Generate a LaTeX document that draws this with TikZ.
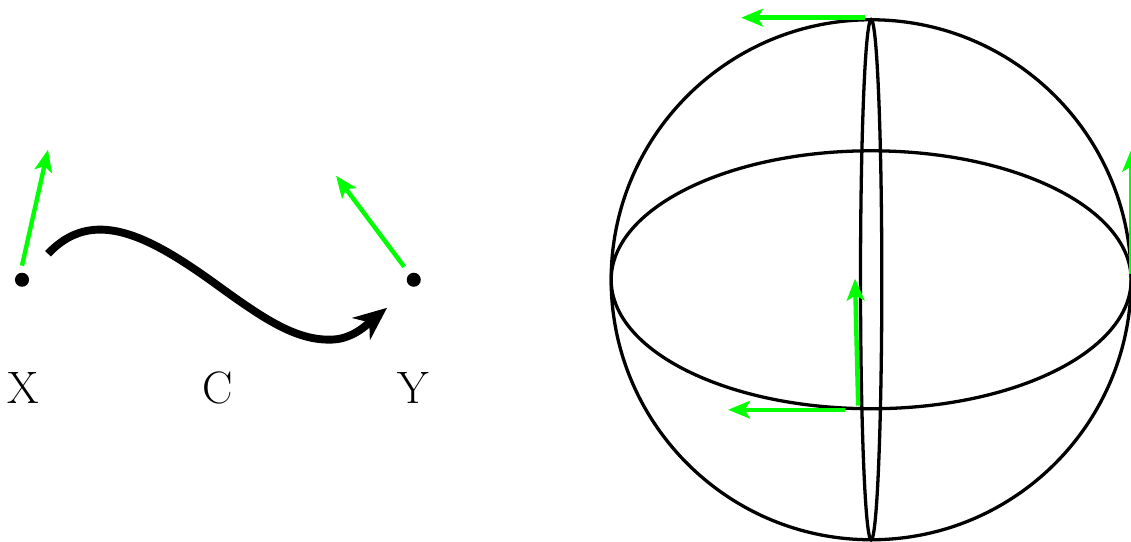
\documentclass[tikz,border=0pt]{standalone}
\usetikzlibrary{arrows.meta, positioning}
\tikzset{
  point/.style={circle, fill=black, inner sep=0pt, minimum size=0.27cm},
  tag/.style={font=\Huge, inner sep=0pt},
  tangent/.style={draw=green, line width=2.4pt, -{Stealth[inset=0.1cm, length=0.42cm, width=0.34cm]}},
  path/.style={line width=4.3pt, -{Stealth[inset=0.2cm, length=0.64cm, width=0.54cm]}},
  sphere/.style={line width=1.8pt}
}
\begin{document}
\begin{tikzpicture}
    \useasboundingbox (-0.423,-5.03) rectangle (21.327,5.38);

    % Points and labels
    \node [point] (x) at (0,0) {};
    \node [point, right=7.25cm of x] (y) {};
    \node [tag] (xlabel) at (0.02,-2.08) {X};
    \node [tag] (clabel) at (3.77,-2.08) {C};
    \node [tag] (ylabel) at (7.52,-2.08) {Y};

    % Curve
    \coordinate (start) at (0.5,0.5);
    \coordinate (end) at (7.02,-0.54);
    \draw [path] (start) .. controls (1.35,1.4) and (2.4,0.88) .. (3.75,-0.1)
        .. controls (4.7,-0.79) and (5.3,-1.18) .. (5.98,-1.15)
        .. controls (6.4,-1.13) and (6.7,-0.8) .. (end);

    % Tangents on the left
    \coordinate (xa) at (0,0.27);
    \coordinate (xb) at (0.5,2.5);
    \coordinate (ya) at (7.35,0.25);
    \coordinate (yb) at (6.04,2);
    \draw [tangent] (xa) -- (xb);
    \draw [tangent] (ya) -- (yb);

    % Sphere
    \coordinate (o) at (16.33,0);
    \draw [sphere] (o) circle (5cm);
    \draw [sphere] (o) ellipse (5cm and 2.48cm);
    \draw [sphere] (o) ellipse (0.205cm and 5cm);

    % Tangents on the sphere
    \coordinate (ta) at (16.21,5.04);
    \coordinate (tb) at (13.83,5.04);
    \coordinate (ua) at (15.82,-2.5);
    \coordinate (ub) at (13.58,-2.5);
    \coordinate (va) at (16.08,-2.42);
    \coordinate (vb) at (16.02,0.02);
    \coordinate (wa) at (21.33,0.12);
    \coordinate (wb) at (21.33,2.5);
    \draw [tangent] (ta) -- (tb);
    \draw [tangent] (ua) -- (ub);
    \draw [tangent] (va) -- (vb);
    \draw [tangent] (wa) -- (wb);
\end{tikzpicture}
\end{document}
